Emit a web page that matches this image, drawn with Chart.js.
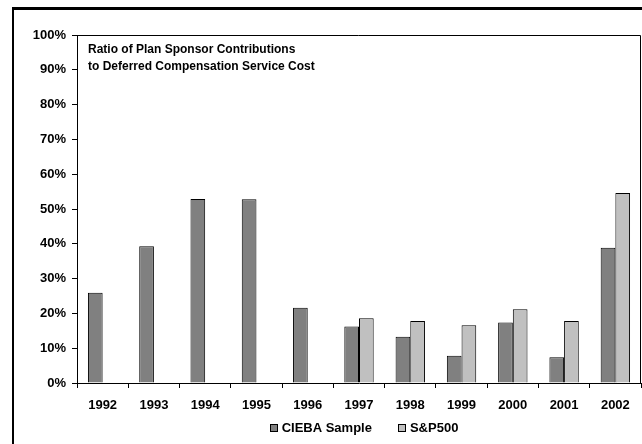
<!DOCTYPE html>
<html>
<head>
<meta charset="utf-8">
<title>Plan Sponsor Contributions</title>
<script src="https://cdn.jsdelivr.net/npm/chart.js@4.4.1/dist/chart.umd.min.js"></script>
<style>
    html, body { margin: 0; padding: 0; background: #ffffff; }
    #wrap { position: relative; width: 642px; height: 444px; }
</style>
</head>
<body>
<div id="wrap"><canvas id="ratioChart" width="642" height="444"></canvas></div>
<script>
// Contribution ratio data, by year
const years = ['1992', '1993', '1994', '1995', '1996', '1997', '1998', '1999', '2000', '2001', '2002'];
const ciebaSample = [25.9, 39.3, 52.9, 52.8, 21.6, 16.2, 13.3, 7.8, 17.4, 7.4, 38.9];
const sp500 = [null, null, null, null, null, 18.6, 17.8, 16.6, 21.2, 17.8, 54.6];
const yTicks = [0, 10, 20, 30, 40, 50, 60, 70, 80, 90, 100];
const noteLines = ['Ratio of Plan Sponsor Contributions', 'to Deferred Compensation Service Cost'];

const FONT = '"Liberation Sans", Arial, sans-serif';

// Page frame, plot box, note in the upper left corner and the legend row
const framePlugin = {
    id: 'frame',
    beforeDraw(chart) {
        const ctx = chart.ctx;
        ctx.save();
        ctx.fillStyle = '#000000';
        ctx.fillRect(12, 7, 630, 3);
        ctx.fillRect(12, 7, 2, 437);
        ctx.restore();
    },
    afterDraw(chart) {
        const { ctx, chartArea } = chart;
        ctx.save();
        ctx.strokeStyle = '#000000';
        ctx.lineWidth = 1;
        ctx.beginPath();
        ctx.moveTo(chartArea.left, chartArea.top + 0.5);
        ctx.lineTo(chartArea.right - 0.5, chartArea.top + 0.5);
        ctx.lineTo(chartArea.right - 0.5, chartArea.bottom);
        ctx.stroke();

        ctx.fillStyle = '#000000';
        ctx.font = 'bold 12px ' + FONT;
        ctx.textBaseline = 'middle';
        ctx.textAlign = 'left';
        noteLines.forEach((line, i) => {
            ctx.fillText(line, chartArea.left + 11, chartArea.top + 15 + i * 17);
        });

        // legend: small boxed swatch, label, wide gap between entries
        const box = 8, gapText = 4, gapItem = 26;
        ctx.font = 'bold 13px ' + FONT;
        const items = chart.data.datasets.map(ds => ({
            text: ds.label,
            fill: ds.backgroundColor,
            w: box + gapText + ctx.measureText(ds.label).width
        }));
        const total = items.reduce((s, it) => s + it.w, 0) + gapItem * (items.length - 1);
        let x = (chartArea.left + chartArea.right) / 2 + 5 - total / 2;
        const y = 428;
        items.forEach(it => {
            ctx.fillStyle = it.fill;
            ctx.fillRect(Math.round(x), y - 4, box, box);
            ctx.strokeStyle = '#000000';
            ctx.strokeRect(Math.round(x) + 0.5, y - 3.5, box - 1, box - 1);
            ctx.fillStyle = '#000000';
            ctx.fillText(it.text, x + box + gapText, y);
            x += it.w + gapItem;
        });
        ctx.restore();
    }
};

const ctx = document.getElementById('ratioChart').getContext('2d');
new Chart(ctx, {
    type: 'bar',
    data: {
        labels: years,
        datasets: [
            {
                label: 'CIEBA Sample',
                data: ciebaSample,
                backgroundColor: '#808080',
                borderColor: '#000000',
                borderWidth: 1,
                barPercentage: 1,
                categoryPercentage: 0.573
            },
            {
                label: 'S&P500',
                data: sp500,
                backgroundColor: '#c0c0c0',
                borderColor: '#000000',
                borderWidth: 1,
                barPercentage: 1,
                categoryPercentage: 0.573
            }
        ]
    },
    options: {
        responsive: false,
        animation: false,
        devicePixelRatio: 1,
        layout: {
            padding: { top: 35, right: 1, left: 0, bottom: 0 }
        },
        plugins: {
            tooltip: { enabled: false },
            legend: { display: false }
        },
        scales: {
            x: {
                grid: {
                    display: true,
                    drawOnChartArea: false,
                    tickLength: 5,
                    color: '#000000',
                    offset: true
                },
                border: { color: '#000000', width: 1 },
                ticks: {
                    color: '#000000',
                    padding: 10,
                    maxRotation: 0,
                    autoSkip: false,
                    font: { family: FONT, size: 13, weight: 'bold' }
                },
                afterFit(scale) { scale.height = 61; }
            },
            y: {
                min: 0,
                max: 100,
                afterBuildTicks(scale) {
                    scale.ticks = yTicks.map(v => ({ value: v }));
                },
                grid: {
                    display: true,
                    drawOnChartArea: false,
                    tickLength: 5,
                    color: '#000000'
                },
                border: { color: '#000000', width: 1 },
                ticks: {
                    color: '#000000',
                    padding: 6,
                    font: { family: FONT, size: 13, weight: 'bold' },
                    callback: (value) => value + '%'
                },
                afterFit(scale) { scale.width = 77; }
            }
        }
    },
    plugins: [framePlugin]
});
</script>
</body>
</html>
